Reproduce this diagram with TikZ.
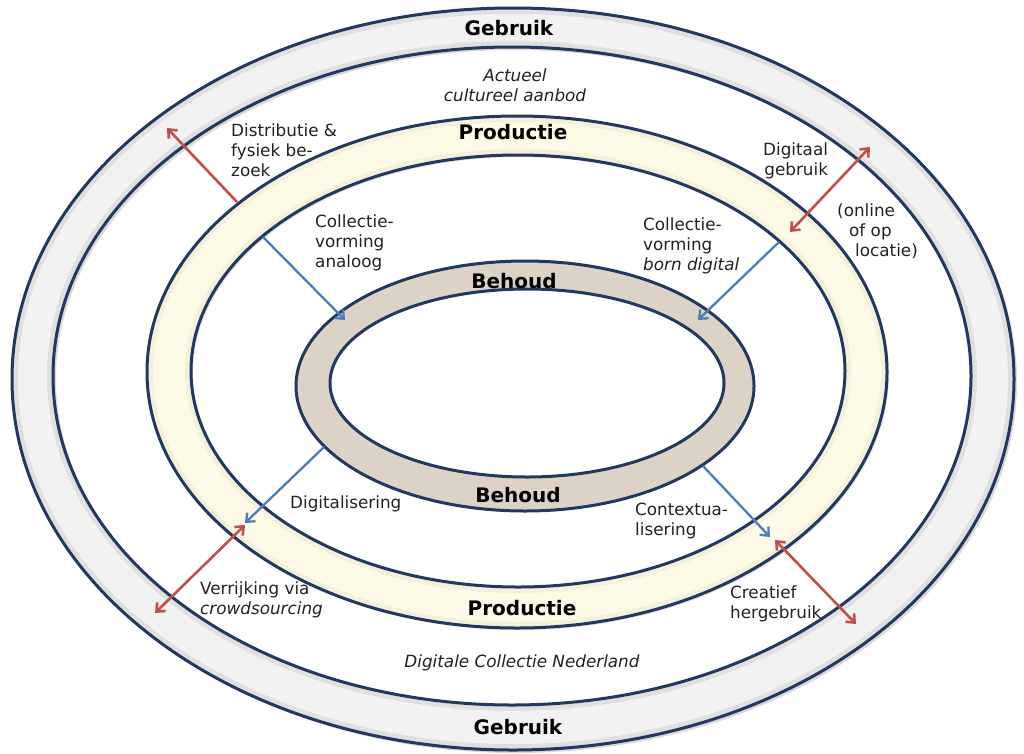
\documentclass[tikz,border=0pt]{standalone}
\usepackage{fontspec}
\setmainfont{DejaVu Sans}
\usetikzlibrary{arrows.meta}
\definecolor{ringline}{RGB}{34,56,96}
\definecolor{gebfill}{RGB}{242,242,242}
\definecolor{prodfill}{RGB}{253,250,230}
\definecolor{behfill}{RGB}{220,211,198}
\definecolor{arrblue}{RGB}{74,126,187}
\definecolor{arrred}{RGB}{192,80,77}
\definecolor{txt}{RGB}{34,34,34}
\begin{document}
\begin{tikzpicture}[x=1pt,y=-1pt,
  lbl/.style={font=\fontsize{16.8}{20}\selectfont, text=txt, inner sep=0pt, align=left, anchor=west},
  ctr/.style={font=\fontsize{16.8}{20}\selectfont\itshape, text=txt, inner sep=0pt, align=center},
  ttl/.style={font=\fontsize{20}{22}\selectfont\bfseries, text=black, inner sep=0pt},
  ringline/.style={draw=ringline, line width=3pt},
  shade/.style={draw=black, opacity=0.07, line width=6pt},
  bluearrow/.style={draw=arrblue, line width=2.3pt, -{Straight Barb[length=7pt,width=12pt]}},
  redarrow/.style={draw=arrred, line width=2.6pt, -{Straight Barb[length=7pt,width=12pt]}},
  reddouble/.style={draw=arrred, line width=2.6pt, {Straight Barb[length=7pt,width=12pt]}-{Straight Barb[length=7pt,width=12pt]}}]
\useasboundingbox (0,0) rectangle (1024,753);
\fill[white] (0,0) rectangle (1024,753);

% ---- Gebruik ring ----
\fill[black, opacity=0.15, even odd rule] (516,382) ellipse [x radius=501pt, y radius=371pt] (515,379) ellipse [x radius=459pt, y radius=329pt];
\fill[gebfill, even odd rule] (513,379) ellipse [x radius=501pt, y radius=371pt] (512,376) ellipse [x radius=459pt, y radius=329pt];
\draw[shade] (513,379) ellipse [x radius=498pt, y radius=368pt];
\draw[shade] (512,376) ellipse [x radius=462pt, y radius=332pt];
\draw[ringline] (513,379) ellipse [x radius=501pt, y radius=371pt];
\draw[ringline] (512,376) ellipse [x radius=459pt, y radius=329pt];

% ---- Productie ring ----
\fill[black, opacity=0.12, even odd rule] (519,374) ellipse [x radius=370pt, y radius=256pt] (520,373) ellipse [x radius=327pt, y radius=216pt];
\fill[prodfill, even odd rule] (517,372) ellipse [x radius=370pt, y radius=256pt] (518,371) ellipse [x radius=327pt, y radius=216pt];
\draw[draw=black, opacity=0.04, line width=6pt] (517,372) ellipse [x radius=367pt, y radius=253pt];
\draw[draw=black, opacity=0.04, line width=6pt] (518,371) ellipse [x radius=330pt, y radius=219pt];
\draw[ringline] (517,372) ellipse [x radius=370pt, y radius=256pt];
\draw[ringline] (518,371) ellipse [x radius=327pt, y radius=216pt];

% ---- Behoud ring ----
\fill[behfill, even odd rule] (525,386) ellipse [x radius=229pt, y radius=125pt] (527,383) ellipse [x radius=197pt, y radius=94pt];
\draw[ringline] (525,386) ellipse [x radius=229pt, y radius=125pt];
\draw[ringline] (527,383) ellipse [x radius=197pt, y radius=94pt];

% ---- titles ----
\node[ttl] (gebtop) at (509,28) {Gebruik};
\node[ttl] (gebbot) at (518,727) {Gebruik};
\node[ttl] (prodtop) at (513,132) {Productie};
\node[ttl] (prodbot) at (522,608) {Productie};
\node[ttl] (behtop) at (514,281) {Behoud};
\node[ttl] (behbot) at (518,495) {Behoud};

% ---- labels ----
\node[ctr] (aanbod) at (515,85) {Actueel\\cultureel aanbod};
\node[ctr] (dcn) at (522,663) {Digitale Collectie Nederland};
\node[lbl] (distr) at (231,150) {Distributie \&\\fysiek be-\\zoek};
\node[lbl] (analoog) at (315,243) {Collectie-\\vorming\\analoog};
\node[lbl, align=right] (diggebr) at (763,161) {Digitaal\hspace{9pt}\\gebruik};
\node[lbl] (online) at (837,231) {(online\\\hspace{12pt}of op\\\hspace{18pt}locatie)};
\node[lbl] (born) at (643,246) {Collectie-\\vorming\\\textit{born digital}};
\node[lbl] (digit) at (290,504) {Digitalisering};
\node[lbl] (verrijk) at (200,600) {Verrijking via\\\textit{crowdsourcing}};
\node[lbl] (context) at (635,521) {Contextua-\\lisering};
\node[lbl] (creatief) at (730,604) {Creatief\\hergebruik};

% ---- arrow end points ----
\coordinate (r1a) at (237,202); \coordinate (r1b) at (167,128);
\coordinate (b1a) at (263,237); \coordinate (b1b) at (345,320);
\coordinate (r2a) at (790,232); \coordinate (r2b) at (870,147);
\coordinate (b2a) at (779,242); \coordinate (b2b) at (698,320);
\coordinate (b3a) at (324,447); \coordinate (b3b) at (245,523);
\coordinate (r3a) at (245,525); \coordinate (r3b) at (155,613);
\coordinate (b4a) at (703,466); \coordinate (b4b) at (770,537);
\coordinate (r4a) at (775,540); \coordinate (r4b) at (856,624);

\draw[redarrow] (r1a) -- (r1b);
\draw[bluearrow] (b1a) -- (b1b);
\draw[reddouble] (r2a) -- (r2b);
\draw[bluearrow] (b2a) -- (b2b);
\draw[bluearrow] (b3a) -- (b3b);
\draw[reddouble] (r3a) -- (r3b);
\draw[bluearrow] (b4a) -- (b4b);
\draw[reddouble] (r4a) -- (r4b);
\end{tikzpicture}
\end{document}
